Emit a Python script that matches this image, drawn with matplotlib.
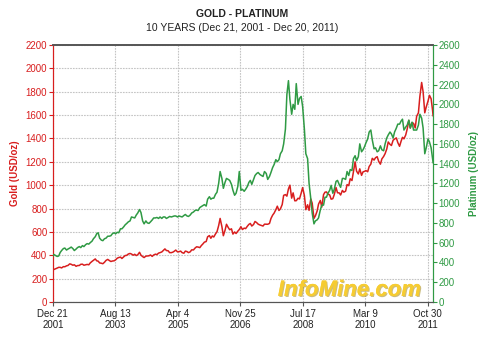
import numpy as np
import pandas as pd
import matplotlib
matplotlib.use("Agg")
import matplotlib.pyplot as plt
import matplotlib.patheffects as pe

plt.rcParams['font.family'] = ['Liberation Sans', 'DejaVu Sans']

# semi-monthly readings (1st and 15th of each month), plus first/last day
start_date = "2001-12-21"
end_date = "2011-12-20"

gold_start = 276
gold_by_year = {
    2002: [278, 283, 290, 296, 296, 291, 302, 301, 309, 312, 326, 322, 314, 318, 305, 311, 312, 322, 323, 314, 318, 321, 318, 334],
    2003: [347, 356, 368, 352, 349, 334, 331, 327, 340, 355, 364, 355, 346, 350, 352, 360, 375, 380, 384, 372, 386, 397, 399, 410],
    2004: [415, 410, 400, 408, 397, 404, 425, 400, 388, 380, 392, 393, 395, 402, 390, 402, 409, 405, 418, 422, 428, 440, 454, 440],
    2005: [438, 422, 422, 426, 434, 444, 428, 430, 435, 422, 417, 435, 431, 422, 429, 446, 445, 460, 472, 470, 465, 482, 497, 512],
    2006: [517, 558, 568, 545, 565, 556, 583, 601, 654, 715, 645, 567, 613, 665, 637, 618, 626, 581, 599, 586, 606, 620, 644, 620],
    2007: [632, 628, 649, 664, 672, 650, 663, 689, 679, 666, 659, 655, 650, 666, 665, 665, 672, 714, 743, 760, 790, 820, 783, 797],
    2008: [834, 913, 919, 906, 968, 1000, 889, 934, 866, 867, 888, 882, 931, 979, 912, 790, 832, 784, 882, 846, 715, 738, 777, 838],
    2009: [869, 812, 919, 940, 942, 924, 916, 880, 884, 920, 980, 935, 934, 916, 955, 940, 949, 1005, 996, 1055, 1040, 1115, 1200, 1120],
    2010: [1096, 1140, 1084, 1114, 1118, 1125, 1115, 1160, 1180, 1230, 1215, 1235, 1244, 1205, 1180, 1225, 1246, 1270, 1310, 1370, 1350, 1340, 1385, 1395],
    2011: [1405, 1365, 1333, 1375, 1410, 1397, 1430, 1480, 1555, 1490, 1535, 1530, 1490, 1590, 1620, 1760, 1880, 1800, 1620, 1670, 1720, 1770, 1740, 1640],
}
gold_end = 1595

platinum_start = 465
platinum_by_year = {
    2002: [480, 470, 460, 465, 500, 520, 540, 545, 525, 535, 545, 555, 540, 520, 535, 550, 560, 550, 570, 560, 580, 590, 585, 600],
    2003: [615, 640, 660, 690, 700, 645, 625, 620, 640, 645, 665, 665, 670, 690, 700, 690, 705, 700, 740, 740, 760, 780, 795, 810],
    2004: [820, 860, 855, 850, 880, 900, 935, 905, 820, 790, 820, 800, 795, 810, 830, 850, 850, 855, 845, 860, 845, 860, 860, 845],
    2005: [855, 865, 860, 865, 870, 870, 860, 870, 865, 860, 875, 885, 870, 865, 880, 900, 910, 925, 930, 925, 955, 965, 975, 985],
    2006: [970, 1040, 1065, 1040, 1050, 1050, 1090, 1110, 1200, 1320, 1250, 1150, 1210, 1250, 1240, 1230, 1190, 1130, 1080, 1100, 1170, 1320, 1130, 1140],
    2007: [1120, 1140, 1170, 1210, 1230, 1190, 1240, 1280, 1300, 1310, 1290, 1280, 1270, 1320, 1300, 1240, 1270, 1310, 1360, 1390, 1440, 1420, 1440, 1500],
    2008: [1530, 1600, 1750, 2100, 2240, 2050, 1900, 2000, 1950, 2210, 2000, 2060, 2080, 1980, 1750, 1500, 1450, 1200, 1050, 900, 790, 820, 830, 850],
    2009: [930, 980, 980, 1060, 1060, 1100, 1130, 1180, 1100, 1140, 1220, 1230, 1190, 1160, 1250, 1250, 1240, 1320, 1280, 1340, 1330, 1450, 1480, 1430],
    2010: [1470, 1600, 1520, 1540, 1570, 1610, 1650, 1720, 1740, 1640, 1550, 1560, 1520, 1530, 1580, 1540, 1530, 1600, 1660, 1690, 1720, 1700, 1660, 1720],
    2011: [1760, 1800, 1800, 1830, 1850, 1740, 1770, 1790, 1840, 1760, 1820, 1740, 1740, 1740, 1790, 1900, 1860, 1760, 1500, 1560, 1650, 1620, 1560, 1450],
}
platinum_end = 1410

tick_dates = pd.date_range(start_date, periods=7, freq="600D")

dates = ([pd.Timestamp(start_date)]
         + list(pd.date_range("2002-01-01", "2011-12-15", freq="SMS"))
         + [pd.Timestamp(end_date)])
gold = [gold_start] + [v for y in sorted(gold_by_year) for v in gold_by_year[y]] + [gold_end]
platinum = [platinum_start] + [v for y in sorted(platinum_by_year) for v in platinum_by_year[y]] + [platinum_end]

red = "#d81e1e"
green = "#2f9a44"

fig = plt.figure(figsize=(4.85, 3.47), dpi=100)
ax = fig.add_axes([0.109, 0.13, 0.784, 0.74])
ax2 = ax.twinx()

ax.plot(dates, gold, color=red, lw=1.1, zorder=3)
ax2.plot(dates, platinum, color=green, lw=1.1, zorder=3)

ax.set_xlim(pd.Timestamp(start_date), pd.Timestamp(end_date))
ax.set_ylim(0, 2200)
ax2.set_ylim(0, 2600)
ax.set_yticks(np.arange(0, 2201, 200))
ax2.set_yticks(np.arange(0, 2601, 200))
ax.set_xticks(tick_dates)
ax.set_xticklabels([f"{d.strftime('%b')} {d.day}\n{d.year}" for d in tick_dates])

ax.grid(True, color="#c4c4c4", lw=0.8, ls=(0, (1.5, 1)))
ax.set_axisbelow(True)

ax.tick_params(axis="x", labelsize=7, colors="#555555", labelcolor="#222222", length=3, pad=2)
ax.tick_params(axis="y", labelsize=7, colors=red, length=3, pad=1)
ax2.tick_params(axis="y", labelsize=7, colors=green, length=3, pad=1)

for a in (ax, ax2):
    a.spines["top"].set_color("#555555")
    a.spines["top"].set_linewidth(1.2)
    a.spines["bottom"].set_color("#555555")
    a.spines["left"].set_color(red)
    a.spines["right"].set_color(green)

ax.set_ylabel("Gold (USD/oz)", color=red, fontsize=7, fontweight="bold", labelpad=4)
ax2.set_ylabel("Platinum (USD/oz)", color=green, fontsize=7, fontweight="bold", labelpad=6,
               rotation=90)

fig.text(0.5, 0.975, "GOLD - PLATINUM", ha="center", va="top", fontsize=7.5, fontweight="bold", color="#222222")
fig.text(0.5, 0.935, "10 YEARS (Dec 21, 2001 - Dec 20, 2011)", ha="center", va="top", fontsize=7.5, color="#222222")

wm = ax.text(0.78, 0.045, "InfoMine.com", transform=ax.transAxes, ha="center", va="center",
             fontsize=16, fontweight="bold", style="italic", color="#f6cc32", zorder=5)
wm.set_path_effects([pe.withSimplePatchShadow(offset=(0.8, -0.8), shadow_rgbFace="#9a7a00", alpha=0.5), pe.Normal()])

fig.savefig("out.png", dpi=100)
